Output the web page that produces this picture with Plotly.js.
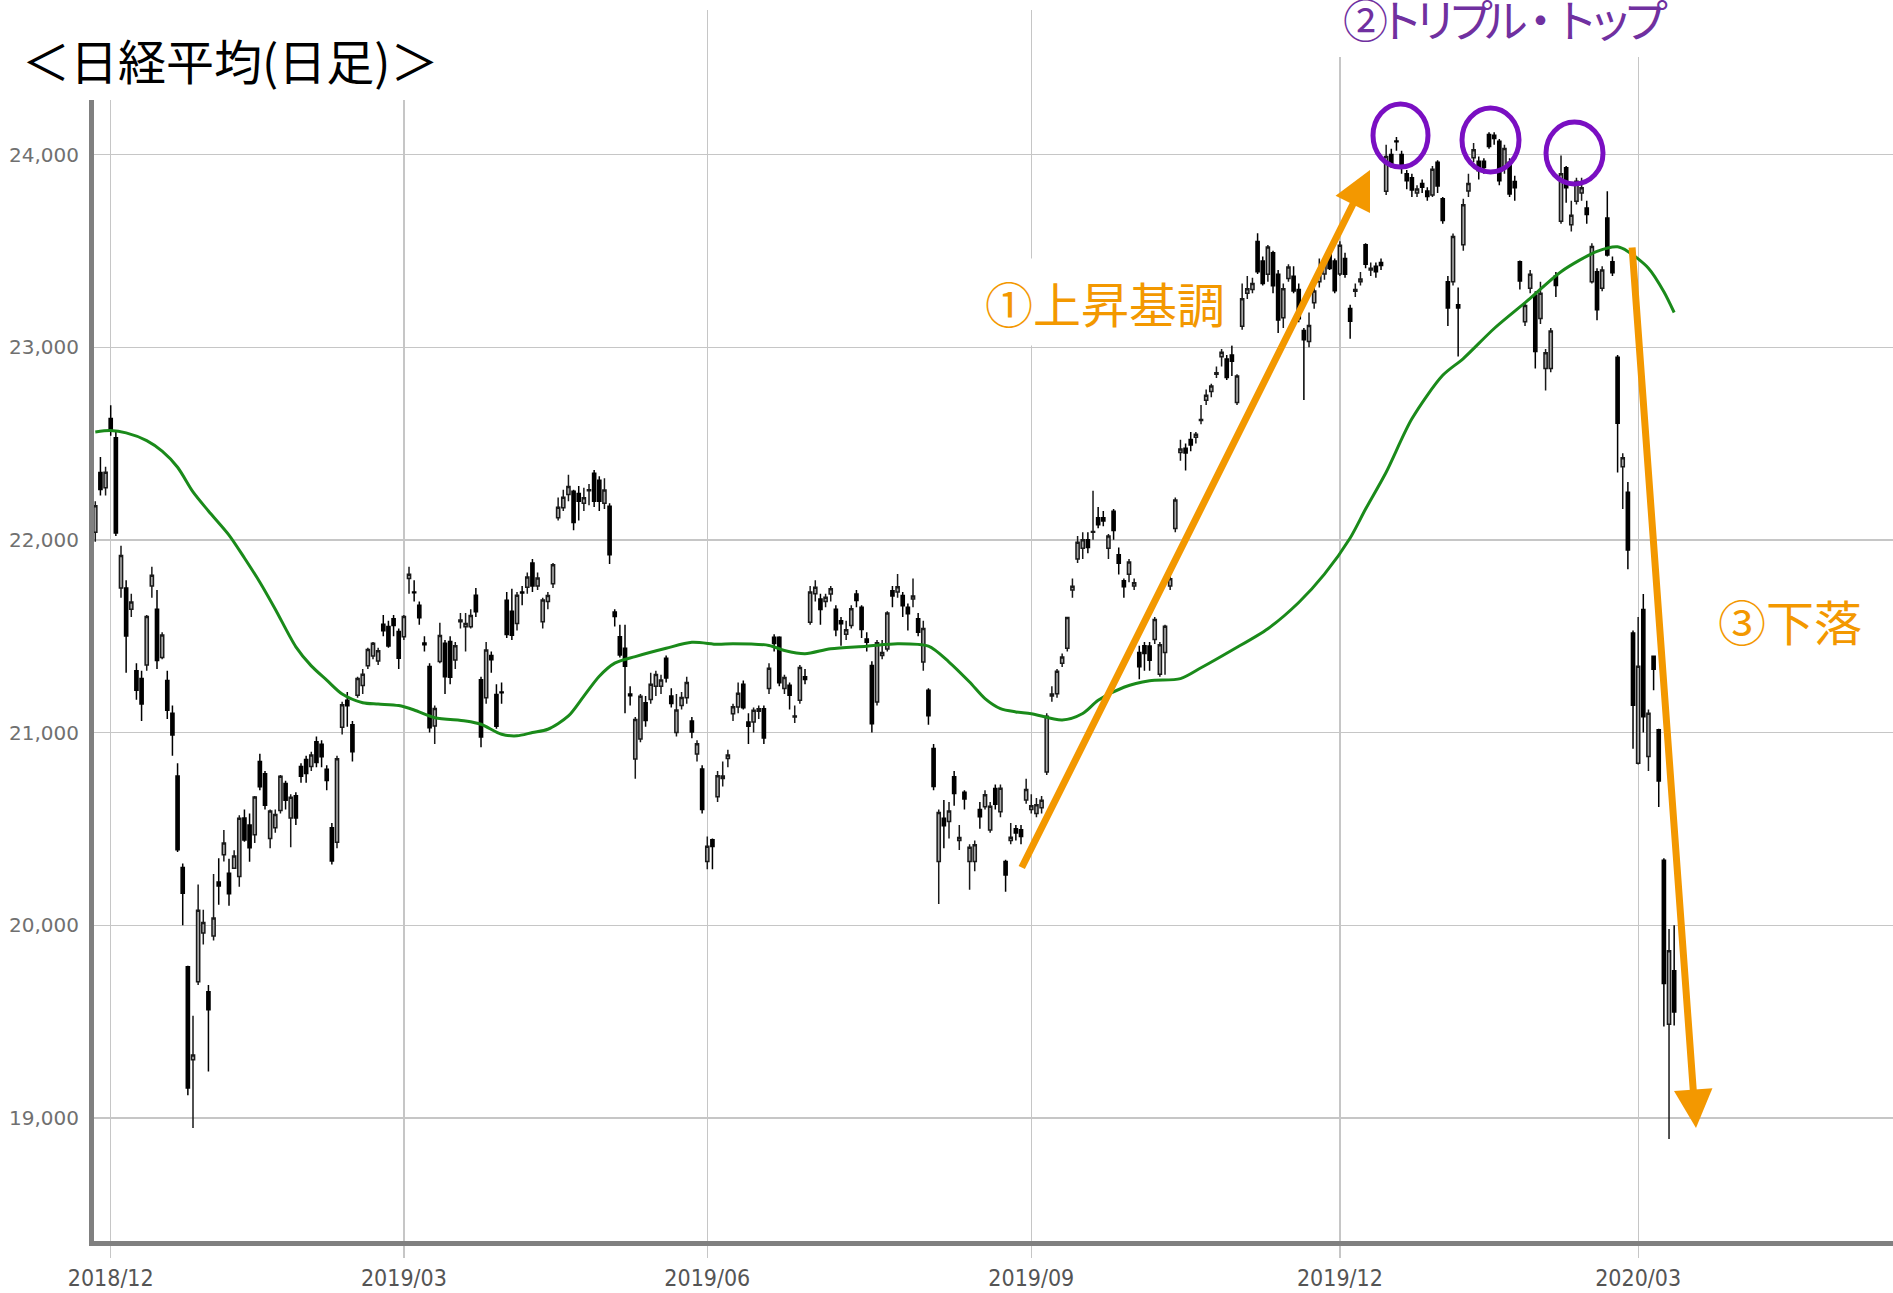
<!DOCTYPE html>
<html><head><meta charset="utf-8">
<script src="https://cdn.plot.ly/plotly-3.0.1.min.js"></script>
<style>html,body{margin:0;padding:0;background:#fff;} #chart{width:1893px;height:1293px;}</style>
</head><body><div id="chart"></div>
<script>
// ---- daily candles: trading days per month and [open, high, low, close] ----
const days_2018_11 = [28,29,30];
const ohlc_2018_11 = [[22040,22200,21990,22177],[22350,22430,22230,22262],[22270,22380,22230,22351]];
const days_2018_12 = [3,4,5,6,7,10,11,12,13,14,17,18,19,20,21,25,26,27,28];
const ohlc_2018_12 = [[22630,22698,22540,22574],[22530,22570,22020,22036],[21750,21970,21700,21919],[21750,21790,21310,21501],[21640,21720,21600,21678],[21320,21360,21170,21219],[21280,21320,21060,21148],[21350,21610,21320,21602],[21760,21860,21700,21816],[21640,21740,21330,21374],[21390,21520,21380,21506],[21270,21320,21070,21115],[21100,21140,20880,20987],[20775,20840,20380,20392],[20300,20320,20000,20166],[19785,19790,19117,19155],[19302,19530,18948,19327],[19706,20211,19690,20077],[19960,20080,19900,20014]];
const days_2019_01 = [4,7,8,9,10,11,15,16,17,18,21,22,23,24,25,28,29,30,31];
const ohlc_2019_01 = [[19655,19690,19241,19561],[19944,20266,19920,20038],[20224,20347,20106,20204],[20366,20494,20331,20427],[20270,20345,20101,20163],[20296,20389,20294,20359],[20253,20571,20200,20555],[20557,20600,20433,20442],[20520,20580,20329,20402],[20470,20670,20427,20666],[20850,20890,20700,20719],[20786,20800,20600,20622],[20450,20600,20400,20593],[20506,20600,20480,20574],[20595,20780,20580,20773],[20735,20750,20600,20649],[20557,20680,20405,20664],[20672,20690,20520,20556],[20824,20840,20740,20773]];
const days_2019_02 = [1,4,5,6,7,8,12,13,14,15,18,19,20,21,22,25,26,27,28];
const ohlc_2019_02 = [[20860,20880,20740,20788],[20824,20900,20800,20883],[20952,20980,20820,20844],[20939,20960,20820,20874],[20810,20830,20700,20751],[20506,20530,20315,20333],[20430,20880,20400,20864],[21028,21160,20990,21144],[21168,21210,21030,21139],[21041,21060,20850,20900],[21193,21290,21180,21281],[21244,21330,21200,21302],[21346,21440,21330,21431],[21397,21470,21380,21464],[21371,21440,21350,21425],[21562,21610,21500,21528],[21550,21580,21440,21449],[21590,21610,21500,21556],[21524,21540,21330,21385]];
const days_2019_03 = [1,4,5,6,7,8,11,12,13,14,15,18,19,20,22,25,26,27,28,29];
const ohlc_2019_03 = [[21497,21610,21480,21602],[21800,21860,21720,21822],[21730,21790,21680,21726],[21660,21680,21560,21596],[21465,21500,21420,21456],[21343,21360,21000,21025],[21034,21140,20940,21125],[21369,21570,21360,21503],[21463,21480,21200,21290],[21472,21500,21250,21287],[21377,21470,21330,21451],[21575,21620,21540,21584],[21549,21620,21420,21566],[21549,21640,21540,21608],[21712,21750,21600,21627],[21274,21290,20923,20977],[21180,21470,21150,21428],[21400,21420,21310,21378],[21197,21250,21020,21033],[21210,21260,21150,21206]];
const days_2019_04 = [1,2,3,4,5,8,9,10,11,12,15,16,17,18,19,22,23,24,25,26];
const ohlc_2019_04 = [[21686,21730,21490,21509],[21630,21746,21480,21505],[21566,21730,21530,21713],[21730,21760,21660,21724],[21754,21830,21720,21807],[21880,21900,21730,21761],[21760,21830,21740,21802],[21575,21700,21540,21688],[21680,21730,21640,21711],[21772,21880,21750,21871],[22115,22220,22100,22169],[22166,22260,22150,22221],[22235,22338,22200,22277],[22252,22260,22050,22090],[22240,22280,22100,22200],[22190,22270,22150,22218],[22255,22290,22180,22260],[22346,22362,22170,22200],[22310,22330,22150,22200],[22190,22320,22160,22259]];
const days_2019_05 = [7,8,9,10,13,14,15,16,17,20,21,22,23,24,27,28,29,30,31];
const ohlc_2019_05 = [[22175,22190,21875,21923],[21625,21640,21550,21602],[21497,21560,21390,21402],[21437,21560,21100,21344],[21200,21240,21140,21191],[20863,21080,20760,21067],[20966,21200,20950,21188],[21154,21190,21030,21062],[21171,21310,21150,21250],[21240,21320,21190,21301],[21240,21300,21200,21272],[21386,21400,21260,21283],[21189,21230,21130,21151],[21000,21200,20980,21117],[21140,21210,21120,21182],[21180,21290,21150,21260],[21060,21080,20970,21003],[20889,20960,20850,20942],[20811,20830,20580,20601]];
const days_2019_06 = [3,4,5,6,7,10,11,12,13,14,17,18,19,20,21,24,25,26,27,28];
const ohlc_2019_06 = [[20331,20460,20290,20410],[20443,20450,20290,20408],[20667,20800,20640,20776],[20762,20850,20720,20774],[20865,20910,20820,20884],[21098,21150,21060,21134],[21133,21260,21100,21204],[21250,21270,21120,21129],[21055,21100,20940,21032],[21055,21130,21000,21116],[21110,21140,21070,21124],[21124,21140,20940,20972],[21228,21360,21200,21333],[21495,21510,21420,21462],[21495,21500,21240,21258],[21228,21300,21200,21285],[21245,21260,21120,21193],[21080,21140,21050,21086],[21167,21350,21150,21338],[21290,21330,21250,21275]];
const days_2019_07 = [1,2,3,4,5,8,9,10,11,12,16,17,18,19,22,23,24,25,26,29,30,31];
const ohlc_2019_07 = [[21572,21760,21560,21729],[21720,21790,21680,21754],[21693,21720,21560,21638],[21680,21720,21650,21702],[21719,21760,21680,21746],[21640,21660,21500,21534],[21580,21600,21450,21565],[21510,21580,21480,21533],[21555,21660,21540,21643],[21719,21740,21650,21685],[21650,21660,21490,21535],[21486,21520,21420,21469],[21348,21370,21000,21046],[21159,21480,21140,21466],[21400,21480,21380,21416],[21434,21630,21420,21620],[21736,21760,21650,21709],[21730,21823,21700,21756],[21711,21730,21600,21658],[21650,21670,21530,21616],[21693,21800,21650,21709],[21590,21620,21500,21521]];
const days_2019_08 = [1,2,5,6,7,8,9,13,14,15,16,19,20,21,22,23,26,27,28,29,30];
const ohlc_2019_08 = [[21366,21580,21320,21540],[21219,21230,21040,21087],[20917,20940,20700,20720],[20331,20600,20110,20585],[20555,20650,20400,20516],[20538,20640,20450,20593],[20771,20800,20620,20684],[20440,20520,20390,20455],[20690,20700,20600,20655],[20331,20420,20184,20405],[20331,20440,20280,20418],[20600,20640,20500,20563],[20615,20700,20600,20677],[20494,20640,20480,20618],[20710,20730,20600,20628],[20589,20730,20560,20711],[20331,20340,20173,20261],[20440,20530,20420,20456],[20500,20520,20440,20479],[20495,20520,20420,20460],[20650,20760,20630,20704]];
const days_2019_09 = [2,3,4,5,6,9,10,11,12,13,17,18,19,20,24,25,26,27,30];
const ohlc_2019_09 = [[20600,20680,20580,20620],[20580,20660,20560,20625],[20610,20670,20580,20649],[20795,21100,20780,21085],[21190,21240,21160,21200],[21201,21330,21180,21318],[21360,21410,21340,21392],[21438,21600,21420,21597],[21740,21800,21700,21759],[21901,22020,21880,21988],[21957,22040,21900,22001],[22000,22040,21930,21960],[22040,22255,22000,22044],[22115,22170,22060,22079],[22115,22150,22070,22098],[21957,22030,21900,22020],[22149,22160,22000,22048],[21923,21960,21820,21879],[21788,21800,21700,21756]];
const days_2019_10 = [1,2,3,4,7,8,9,10,11,15,16,17,18,21,23,24,25,28,29,30,31];
const ohlc_2019_10 = [[21822,21900,21780,21885],[21760,21800,21740,21778],[21415,21450,21276,21342],[21450,21470,21320,21410],[21449,21470,21320,21375],[21483,21600,21460,21587],[21303,21470,21290,21456],[21415,21560,21300,21551],[21760,21830,21740,21798],[22059,22220,22040,22207],[22453,22520,22410,22472],[22476,22500,22360,22451],[22521,22560,22460,22492],[22533,22560,22500,22548],[22620,22700,22600,22625],[22725,22780,22700,22750],[22770,22810,22740,22799],[22860,22900,22840,22867],[22950,22990,22900,22974],[22939,22960,22830,22843],[22960,23010,22850,22927]];
const days_2019_11 = [1,5,6,7,8,11,12,13,14,15,18,19,20,21,22,25,26,27,28,29];
const ohlc_2019_11 = [[22713,22860,22700,22850],[23108,23330,23090,23251],[23280,23370,23250,23303],[23300,23360,23280,23330],[23549,23591,23380,23391],[23447,23470,23320,23331],[23379,23530,23340,23520],[23490,23500,23280,23319],[23379,23400,23074,23141],[23153,23330,23100,23303],[23357,23430,23340,23416],[23368,23420,23280,23292],[23300,23330,23130,23148],[23086,23100,22726,23038],[23029,23180,23000,23112],[23230,23310,23200,23292],[23340,23460,23310,23373],[23380,23450,23350,23437],[23492,23510,23400,23409],[23447,23460,23280,23293]];
const days_2019_12 = [2,3,4,5,6,9,10,11,12,13,16,17,18,19,20,23,24,25,26,27,30];
const ohlc_2019_12 = [[23380,23550,23370,23529],[23460,23490,23360,23379],[23201,23220,23044,23135],[23290,23330,23260,23300],[23340,23390,23320,23354],[23531,23540,23410,23430],[23400,23440,23370,23410],[23420,23440,23360,23391],[23440,23460,23400,23424],[23809,24050,23790,23990],[24000,24030,23930,23952],[24070,24091,24020,24066],[24000,24020,23900,23934],[23900,23920,23820,23864],[23880,23900,23780,23816],[23800,23840,23780,23821],[23850,23870,23800,23830],[23810,23830,23760,23782],[23790,23940,23780,23924],[23960,23970,23800,23837],[23770,23780,23640,23657]];
const days_2020_01 = [6,7,8,9,10,14,15,16,17,20,21,22,23,24,27,28,29,30,31];
const ohlc_2020_01 = [[23340,23370,23110,23204],[23340,23590,23320,23575],[23220,23310,22951,23204],[23531,23770,23500,23739],[23810,23900,23780,23850],[23983,24060,23960,24025],[23965,23990,23870,23916],[23965,23980,23900,23933],[24104,24115,24030,24041],[24100,24115,24050,24083],[24069,24080,23840,23864],[23931,24050,23900,24031],[23960,23980,23780,23795],[23860,23890,23760,23827],[23444,23450,23300,23343],[23132,23230,23110,23216],[23306,23400,23280,23379],[23271,23290,22890,22977],[23149,23340,23120,23280]];
const days_2020_02 = [3,4,5,6,7,10,12,13,14,17,18,19,20,21,25,26,27,28];
const ohlc_2020_02 = [[22889,22990,22775,22971],[22889,23100,22870,23084],[23370,23390,23260,23320],[23653,23995,23640,23900],[23931,23940,23750,23827],[23635,23760,23600,23685],[23757,23880,23740,23861],[23800,23880,23760,23828],[23722,23760,23640,23688],[23340,23540,23330,23523],[23392,23410,23140,23194],[23306,23420,23290,23400],[23670,23809,23470,23479],[23444,23470,23370,23386],[22948,22960,22350,22605],[22380,22450,22160,22426],[22247,22300,21847,21948],[21517,21530,20916,21142]];
const days_2020_03 = [2,3,4,5,6,9,10,11];
const ohlc_2020_03 = [[20840,21600,20834,21344],[21639,21719,21000,21082],[20875,21120,20800,21100],[21396,21400,21220,21329],[21014,21020,20613,20749],[20337,20347,19474,19698],[19486,19980,18891,19867],[19764,20000,19480,19550]];

// ---- moving average (green line), read at sample dates ----
const maDates = ['2018-11-28','2018-12-03','2018-12-06','2018-12-12','2018-12-17','2018-12-20','2018-12-26','2019-01-04','2019-01-10','2019-01-16','2019-01-21','2019-01-24','2019-01-30','2019-02-04','2019-02-07','2019-02-13','2019-02-19','2019-02-22','2019-02-28','2019-03-05','2019-03-11','2019-03-19','2019-03-25','2019-03-29','2019-04-03','2019-04-08','2019-04-11','2019-04-17','2019-04-22','2019-04-25','2019-05-08','2019-05-14','2019-05-22','2019-05-29','2019-06-05','2019-06-10','2019-06-19','2019-06-24','2019-06-28','2019-07-05','2019-07-17','2019-07-25','2019-08-02','2019-08-08','2019-08-15','2019-08-20','2019-08-23','2019-08-28','2019-09-02','2019-09-10','2019-09-17','2019-09-20','2019-09-30','2019-10-07','2019-10-16','2019-10-23','2019-10-31','2019-11-12','2019-11-20','2019-11-27','2019-12-04','2019-12-09','2019-12-13','2019-12-20','2019-12-30','2020-01-09','2020-01-20','2020-01-29','2020-02-06','2020-02-18','2020-02-25','2020-02-27','2020-03-04','2020-03-09','2020-03-11'];
const maValues = [22560,22567,22555,22515,22460,22377,22249,22150,22025,21906,21780,21640,21445,21346,21272,21200,21155,21148,21140,21117,21077,21060,21043,20991,20983,21000,21017,21086,21189,21292,21360,21394,21437,21468,21458,21461,21452,21426,21409,21435,21448,21461,21448,21366,21262,21176,21124,21107,21098,21065,21099,21167,21235,21269,21280,21336,21427,21539,21675,21822,22010,22160,22351,22628,22854,22941,23097,23253,23392,23497,23521,23497,23410,23288,23180];

// ---- axis ticks ----
const tickDates = ['2018-12-03','2019-03-01','2019-06-03','2019-09-02','2019-12-02','2020-03-02'];
const tickLabels = ['2018/12','2019/03','2019/06','2019/09','2019/12','2020/03'];
const yTicks = [19000,20000,21000,22000,23000,24000];

const months = [
 ['2018-11',days_2018_11,ohlc_2018_11],['2018-12',days_2018_12,ohlc_2018_12],
 ['2019-01',days_2019_01,ohlc_2019_01],['2019-02',days_2019_02,ohlc_2019_02],
 ['2019-03',days_2019_03,ohlc_2019_03],['2019-04',days_2019_04,ohlc_2019_04],
 ['2019-05',days_2019_05,ohlc_2019_05],['2019-06',days_2019_06,ohlc_2019_06],
 ['2019-07',days_2019_07,ohlc_2019_07],['2019-08',days_2019_08,ohlc_2019_08],
 ['2019-09',days_2019_09,ohlc_2019_09],['2019-10',days_2019_10,ohlc_2019_10],
 ['2019-11',days_2019_11,ohlc_2019_11],['2019-12',days_2019_12,ohlc_2019_12],
 ['2020-01',days_2020_01,ohlc_2020_01],['2020-02',days_2020_02,ohlc_2020_02],
 ['2020-03',days_2020_03,ohlc_2020_03]
];
const dates=[], op=[], hi=[], lo=[], cl=[];
months.forEach(([ym, days, rows]) => days.forEach((d, i) => {
  dates.push(ym + '-' + String(d).padStart(2, '0'));
  op.push(rows[i][0]); hi.push(rows[i][1]); lo.push(rows[i][2]); cl.push(rows[i][3]);
}));

// ---- geometry helpers for decorations (pixel -> paper) ----
const L = 94, R = 1893, T = 10, B = 1241;
const px = x => (x - L) / (R - L);
const py = y => (B - y) / (B - T);

const ORANGE = '#F39800', PURPLE = '#7030A0', CIRC = '#7A0FC2';

const traces = [
 {type:'candlestick', x:dates, open:op, high:hi, low:lo, close:cl,
  increasing:{line:{color:'#1a1a1a', width:1.5}, fillcolor:'#a8a8a8'},
  decreasing:{line:{color:'#000000', width:1.5}, fillcolor:'#000000'},
  whiskerwidth:0, hoverinfo:'skip', showlegend:false},
 {type:'scatter', mode:'lines', x:maDates, y:maValues,
  line:{color:'#1a8a1a', width:3, shape:'spline', smoothing:0.8},
  hoverinfo:'skip', showlegend:false}
];

const circle = (x0,x1,y0,y1) => ({type:'circle', xref:'paper', yref:'paper', layer:'above',
  x0:px(x0), x1:px(x1), y0:py(y1), y1:py(y0), line:{color:CIRC, width:5}});
const cover = (x0,x1,y0,y1) => ({type:'rect', xref:'paper', yref:'paper', layer:'above',
  x0:px(x0), x1:px(x1), y0:py(y1), y1:py(y0), fillcolor:'#ffffff', line:{width:0}});

const layout = {
 width:1893, height:1293,
 margin:{l:L, r:1893-R, t:T, b:1293-B},
 paper_bgcolor:'#ffffff', plot_bgcolor:'#ffffff',
 showlegend:false, boxgap:0.12,
 xaxis:{type:'category', range:[-0.25, 349.55], tickmode:'array', tickvals:tickDates, ticktext:tickLabels,
  showgrid:true, gridcolor:'#c6c6c6', gridwidth:1.3, showline:true, linecolor:'#808080', linewidth:5,
  ticks:'outside', ticklen:12, tickwidth:1.3, tickcolor:'#c6c6c6',
  tickfont:{family:'"DejaVu Sans Condensed","Liberation Sans Narrow","DejaVu Sans"', size:23, color:'#555555'},
  rangeslider:{visible:false}, fixedrange:true, zeroline:false},
 yaxis:{range:[18361, 24750], tickvals:yTicks, tickformat:',d',
  showgrid:true, gridcolor:'#c6c6c6', gridwidth:1.3, showline:true, linecolor:'#808080', linewidth:5,
  ticks:'', ticklabelstandoff:6,
  tickfont:{family:'"DejaVu Sans", Verdana', size:20, color:'#707070'}, zeroline:false, fixedrange:true},
 shapes:[
  cover(0, 520, 0, 100),
  cover(1328, 1672, 0, 57),
  circle(1373, 1428, 104, 167),
  circle(1462, 1519, 108, 172),
  circle(1546, 1603, 122, 184)
 ],
 annotations:[
  {xref:'paper', yref:'paper', x:px(20), y:py(59), xanchor:'left', yanchor:'middle', showarrow:false,
   text:'＜日経平均(日足)＞', font:{family:'"Noto Sans CJK JP"', size:48, color:'#000000'}},
  {xref:'paper', yref:'paper', x:px(1505), y:py(18), xanchor:'center', yanchor:'middle', showarrow:false,
   text:'<span style="letter-spacing:-10px">②トリプル・トップ</span>', font:{family:'"Noto Sans CJK JP"', size:45, color:PURPLE}},
  {xref:'paper', yref:'paper', x:px(1105), y:py(302), xanchor:'center', yanchor:'middle', showarrow:false,
   text:'①上昇基調', bgcolor:'#ffffff', borderpad:8, font:{family:'"Noto Sans CJK JP"', size:48, color:ORANGE}},
  {xref:'paper', yref:'paper', x:px(1790), y:py(620), xanchor:'center', yanchor:'middle', showarrow:false,
   text:'③下落', font:{family:'"Noto Sans CJK JP"', size:48, color:ORANGE}},
  {xref:'paper', yref:'paper', x:px(1370), y:py(170), text:'', showarrow:true,
   ax:1021-1370, ay:869-170, arrowhead:2, arrowsize:1.1, arrowwidth:7, arrowcolor:ORANGE, standoff:0},
  {xref:'paper', yref:'paper', x:px(1696), y:py(1128), text:'', showarrow:true,
   ax:1632-1696, ay:246-1128, arrowhead:2, arrowsize:1.1, arrowwidth:7, arrowcolor:ORANGE, standoff:0}
 ]
};

Plotly.newPlot('chart', traces, layout, {staticPlot:true, displayModeBar:false});
</script></body></html>
